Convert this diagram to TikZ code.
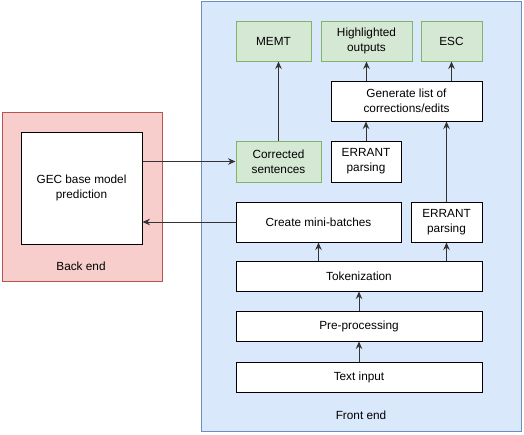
\documentclass[tikz,border=0pt]{standalone}
\usepackage{fontspec}
\setmainfont{Liberation Sans}
\usetikzlibrary{arrows.meta}
\definecolor{gfill}{HTML}{D5E8D4}
\definecolor{gdraw}{HTML}{82B366}
\definecolor{bfill}{HTML}{DAE8FC}
\definecolor{bdraw}{HTML}{6C8EBF}
\definecolor{rfill}{HTML}{F8CECC}
\definecolor{rdraw}{HTML}{B85450}
\tikzset{
  base/.style={rectangle, inner sep=1pt, align=center, font=\fontsize{11.8}{15}\selectfont, line width=1pt},
  whitebox/.style={base, draw=black, fill=white},
  greenbox/.style={base, draw=gdraw, fill=gfill},
  conn/.style={line width=1pt, draw=black!80, -{Stealth[length=7.5pt,width=6.5pt,inset=2.5pt]}},
  lbl/.style={font=\fontsize{11.8}{15}\selectfont, inner sep=0pt},
}
\begin{document}
\begin{tikzpicture}[x=1pt,y=-1pt]
\useasboundingbox (0,0) rectangle (524,434);
% containers
\path[fill=rfill, draw=rdraw, line width=1pt] (2,112) rectangle (162,281);
\path[fill=bfill, draw=bdraw, line width=1pt] (201.5,1) rectangle (521,431);
\node[lbl] (backlbl) at (81,266) {Back end};
\node[lbl] (frontlbl) at (361,415) {Front end};
% back end
\node[whitebox, minimum width=121pt, minimum height=112pt] (gec) at (81.5,188) {GEC base model\\prediction};
% top row
\node[greenbox, minimum width=75pt, minimum height=40pt] (memt) at (273.5,41) {MEMT};
\node[greenbox, minimum width=91pt, minimum height=40pt] (hl) at (366.5,41) {Highlighted\\outputs};
\node[greenbox, minimum width=61pt, minimum height=40pt] (esc) at (451.5,41) {ESC};
\node[whitebox, minimum width=151pt, minimum height=40pt] (gen) at (406.5,101) {Generate list of\\corrections/edits};
\node[greenbox, minimum width=85pt, minimum height=41pt] (corr) at (278.5,161.5) {Corrected\\sentences};
\node[whitebox, minimum width=70pt, minimum height=41pt] (err1) at (366,161.5) {ERRANT\\parsing};
\node[whitebox, minimum width=165pt, minimum height=40pt] (mini) at (318.5,222) {Create mini-batches};
\node[whitebox, minimum width=71pt, minimum height=40pt] (err2) at (446.5,222) {ERRANT\\parsing};
\node[whitebox, minimum width=246pt, minimum height=30pt] (tok) at (359,276) {Tokenization};
\node[whitebox, minimum width=246pt, minimum height=30pt] (pre) at (359,326) {Pre-processing};
\node[whitebox, minimum width=246pt, minimum height=30pt] (txt) at (359,377) {Text input};
% connectors
\draw[conn] (txt.north) -- (pre.south);
\draw[conn] (pre.north) -- (tok.south);
\draw[conn] (mini.south |- tok.north) -- (mini.south);
\draw[conn] (err2.south |- tok.north) -- (err2.south);
\draw[conn] (err2.north) -- (err2.north |- gen.south);
\draw[conn] (err1.north) -- (err1.north |- gen.south);
\draw[conn] (hl.south |- gen.north) -- (hl.south);
\draw[conn] (esc.south |- gen.north) -- (esc.south);
\draw[conn] (corr.north) -- (corr.north |- memt.south);
\draw[conn] (gec.east |- corr.west) -- (corr.west);
\draw[conn] (mini.west) -- (gec.east |- mini.west);
\end{tikzpicture}
\end{document}
